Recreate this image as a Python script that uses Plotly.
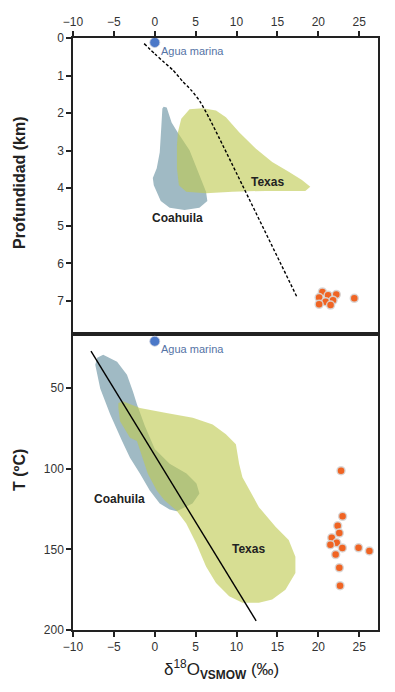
import plotly.graph_objects as go
from plotly.subplots import make_subplots

# ---------------- data ----------------
# Top panel: depth (km) vs d18O
coahuila_depth_x = [1.09, 1.46, 2.06, 2.79, 4.25, 6.27, 6.43, 5.46, 3.64, 1.82, 0.73, -0.12, -0.24, 0.24, 0.61, 0.81, 0.93]
coahuila_depth_y = [1.83, 1.85, 2.25, 2.51, 2.99, 4.09, 4.34, 4.52, 4.58, 4.52, 4.34, 3.92, 3.73, 3.47, 3.04, 2.33, 1.88]

texas_depth_x = [2.83, 3.24, 4.25, 5.86, 7.49, 8.70, 10.32, 12.34, 14.36, 16.38, 18.0, 19.02, 18.41, 13.56, 9.50, 6.27, 3.85, 2.95, 2.71, 2.71]
texas_depth_y = [2.51, 2.15, 1.90, 1.87, 1.93, 2.11, 2.51, 2.94, 3.30, 3.56, 3.78, 3.96, 4.07, 4.07, 4.09, 4.13, 4.09, 3.92, 3.47, 2.86]

trend_depth_x = [-1.3, 0.0, 1.0, 2.2, 3.4, 4.5, 5.5, 6.7, 17.4]
trend_depth_y = [0.15, 0.42, 0.62, 0.85, 1.15, 1.40, 1.68, 2.15, 6.9]

samples_depth_x = [20.5, 20.1, 21.2, 22.2, 21.8, 20.9, 20.1, 21.5, 24.4]
samples_depth_y = [6.76, 6.91, 6.85, 6.83, 6.98, 7.02, 7.09, 7.11, 6.93]

seawater_depth = ([0.0], [0.12])

# Bottom panel: temperature (degC) vs d18O
coahuila_temp_x = [-6.31, -4.61, -3.40, -2.67, -2.18, -1.21, 0.0, 1.82, 3.88, 5.10, 5.46, 4.61, 2.67,
                   1.82, 0.61, -0.61, -1.82, -3.03, -4.0, -5.46, -6.67, -7.28, -7.04]
coahuila_temp_y = [29.3, 33.6, 41.6, 52.0, 60.0, 73.5, 87.7, 96.9, 103.0, 109.2, 115.3, 121.5, 126.4,
                   125.2, 121.5, 113.5, 103.0, 93.2, 82.8, 66.2, 50.2, 35.4, 31.1]

texas_temp_x = [-4.45, -3.85, -1.82, 1.42, 4.65, 7.08, 8.70, 9.92, 10.32, 10.72, 12.74, 14.77, 16.38, 17.2, 17.2,
                15.98, 14.36, 12.74, 10.72, 9.10, 7.49, 6.27, 5.06, 3.85, 2.63, 1.21, 0.24, -0.85, -2.18, -3.03, -4.25, -4.45]
texas_temp_y = [59.2, 58.2, 62.3, 65.4, 68.4, 72.5, 78.6, 84.8, 97.1, 105.3, 123.8, 136.0, 144.2, 154.5, 164.7,
                175.0, 181.1, 183.1, 183.1, 179.1, 170.8, 160.6, 146.2, 134.0, 125.8, 119.6, 113.5, 103.1, 82.8, 80.7, 70.5, 62.3]

trend_temp_x = [-7.8, 12.4]
trend_temp_y = [27.0, 194.4]

samples_temp_x = [22.78, 22.97, 22.37, 22.57, 21.64, 22.25, 21.48, 22.94, 24.92, 26.25, 22.12, 22.57, 22.66]
samples_temp_y = [101.2, 129.5, 135.4, 139.9, 142.8, 145.9, 147.1, 149.1, 149.0, 151.0, 153.2, 161.4, 172.5]

seawater_temp = ([0.0], [20.9])

x_ticks = [-10, -5, 0, 5, 10, 15, 20, 25]
depth_ticks = [0, 1, 2, 3, 4, 5, 6, 7]
temp_ticks = [50, 100, 150, 200]

# ---------------- styles ----------------
FONT = "Liberation Sans, Arial, sans-serif"
COA = "rgb(160,186,196)"
TEX = "rgb(190,202,80)"
ORANGE = "rgb(240,100,35)"
BLUE = "rgb(75,120,200)"
LABEL_BLUE = "rgb(85,115,165)"

fig = make_subplots(rows=2, cols=1, vertical_spacing=0.0)


def add_panel(row, cx, cy, tx, ty, lx, ly, dash, sx, sy, sw):
    fig.add_trace(go.Scatter(x=cx, y=cy, fill="toself", fillcolor=COA, mode="none",
                             line=dict(width=0), hoverinfo="skip", showlegend=False), row=row, col=1)
    fig.add_trace(go.Scatter(x=tx, y=ty, fill="toself", fillcolor=TEX, mode="none", opacity=0.62,
                             line=dict(width=0), hoverinfo="skip", showlegend=False), row=row, col=1)
    fig.add_trace(go.Scatter(x=lx, y=ly, mode="lines",
                             line=dict(color="black", width=1.4, dash=dash, shape="spline", smoothing=0.6),
                             showlegend=False), row=row, col=1)
    fig.add_trace(go.Scatter(x=sx, y=sy, mode="markers",
                             marker=dict(color=ORANGE, size=8, line=dict(color="rgba(215,215,215,0.9)", width=1.5)),
                             showlegend=False), row=row, col=1)
    fig.add_trace(go.Scatter(x=sw[0], y=sw[1], mode="markers",
                             marker=dict(color=BLUE, size=10, line=dict(color="rgba(200,205,220,0.8)", width=1)),
                             showlegend=False), row=row, col=1)


add_panel(1, coahuila_depth_x, coahuila_depth_y, texas_depth_x, texas_depth_y,
          trend_depth_x, trend_depth_y, "3px,2px", samples_depth_x, samples_depth_y, seawater_depth)
add_panel(2, coahuila_temp_x, coahuila_temp_y, texas_temp_x, texas_temp_y,
          trend_temp_x, trend_temp_y, "solid", samples_temp_x, samples_temp_y, seawater_temp)

axis_common = dict(showgrid=False, zeroline=False, showline=True, linecolor="#222", linewidth=1.5,
                   mirror=True, ticks="outside", ticklen=5, tickwidth=1.5, tickcolor="#222",
                   tickfont=dict(family=FONT, size=12, color="#333"))

fig.update_xaxes(range=[-10, 27.3], tickvals=x_ticks, side="top", **axis_common, row=1, col=1)
fig.update_xaxes(range=[-10, 27.3], tickvals=x_ticks, side="bottom", **axis_common, row=2, col=1)
fig.update_yaxes(range=[7.88, 0], tickvals=depth_ticks, **axis_common, row=1, col=1)
fig.update_yaxes(range=[200, 16.4], tickvals=temp_ticks, **axis_common, row=2, col=1)

# the page body adds an 8px offset; size the figure so the plot lands where the reference has it
fig.update_layout(
    width=379, height=676,
    margin=dict(l=65, r=7, t=24, b=54),
    paper_bgcolor="white", plot_bgcolor="white",
    font=dict(family=FONT),
    showlegend=False,
)
fig.layout.yaxis.domain = [0.5, 1.0]
fig.layout.yaxis2.domain = [0.0, 0.5]

ann = []
ann.append(dict(x=0.5, y=0.12, xref="x", yref="y", text="Agua marina", showarrow=False,
                xanchor="left", yanchor="top", font=dict(family=FONT, size=11, color=LABEL_BLUE)))
ann.append(dict(x=0.5, y=20.9, xref="x2", yref="y2", text="Agua marina", showarrow=False,
                xanchor="left", yanchor="top", font=dict(family=FONT, size=11, color=LABEL_BLUE)))
ann.append(dict(x=2.8, y=4.79, xref="x", yref="y", text="<b>Coahuila</b>", showarrow=False,
                font=dict(family=FONT, size=12, color="#222")))
ann.append(dict(x=13.8, y=3.83, xref="x", yref="y", text="<b>Texas</b>", showarrow=False,
                font=dict(family=FONT, size=12, color="#222")))
ann.append(dict(x=-4.3, y=118.6, xref="x2", yref="y2", text="<b>Coahuila</b>", showarrow=False,
                font=dict(family=FONT, size=12, color="#222")))
ann.append(dict(x=11.5, y=150, xref="x2", yref="y2", text="<b>Texas</b>", showarrow=False,
                font=dict(family=FONT, size=12, color="#222")))
ann.append(dict(x=-54 / 307, y=(630 - 178) / 598, xref="paper", yref="paper", text="<b>Profundidad (km)</b>",
                textangle=-90, showarrow=False, xanchor="center", yanchor="middle",
                font=dict(family=FONT, size=16, color="#222")))
ann.append(dict(x=-54 / 307, y=(630 - 468) / 598, xref="paper", yref="paper", text="<b>T (ºC)</b>",
                textangle=-90, showarrow=False, xanchor="center", yanchor="middle",
                font=dict(family=FONT, size=16, color="#222")))
ann.append(dict(x=(222 - 73) / 307, y=-(670 - 630) / 598, xref="paper", yref="paper",
                text="δ<sup>18</sup>O<sub><b>VSMOW</b></sub> (‰)",
                showarrow=False, xanchor="center", yanchor="middle",
                font=dict(family=FONT, size=17, color="#222")))
fig.update_layout(annotations=ann)

fig.write_html("out.html")
